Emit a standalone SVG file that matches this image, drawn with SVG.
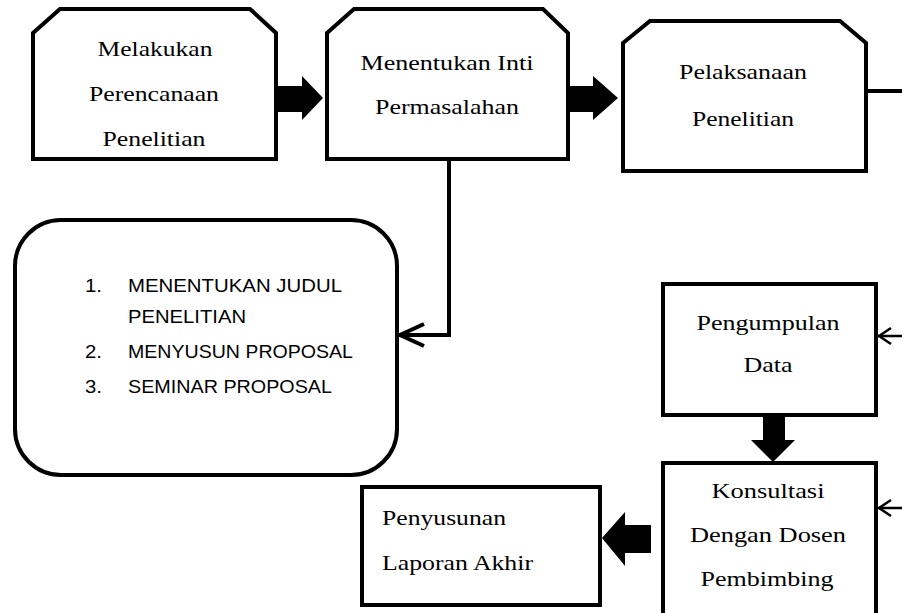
<svg xmlns="http://www.w3.org/2000/svg" width="902" height="613" viewBox="0 0 902 613">
<style>
.box{fill:#fff;stroke:#000;stroke-width:4;stroke-linejoin:miter}
.t{font-family:"Liberation Serif","Times New Roman",serif;font-size:21px;fill:#000}
.s{font-family:"Liberation Sans",Arial,sans-serif;font-size:18.5px;fill:#000}
.c{text-anchor:middle}
.blk{fill:#000;stroke:none}
.ln{fill:none;stroke:#000;stroke-width:4}
.thin{fill:none;stroke:#000;stroke-width:2.5}
</style>
<rect width="902" height="613" fill="#fff"/>
<g id="connectors">
  <polygon class="blk" points="276,86 302,86 302,76 323,98 302,120 302,112 276,112"/>
  <polygon class="blk" points="568,86 593,86 593,76 618,98 593,120 593,112 568,112"/>
  <polyline class="ln" points="449,159 449,335 399,335"/>
  <polyline class="ln" points="424,324 400,335 424,346" stroke-linejoin="miter"/>
  <line class="ln" x1="866" y1="91" x2="902" y2="91"/>
  <line class="thin" x1="878" y1="336" x2="902" y2="336"/>
  <polyline class="thin" points="891,328 879,336 891,344"/>
  <line class="thin" x1="878" y1="508" x2="902" y2="508"/>
  <polyline class="thin" points="891,500 879,508 891,516"/>
  <polygon class="blk" points="763,415 785,415 785,440 795,440 773,462 751,440 763,440"/>
  <polygon class="blk" points="651,525 625,525 625,512 602,538 625,566 625,553 651,553"/>
</g>
<g id="n1">
  <path class="box" d="M33,33 L60,9 L250,9 L276,33 L276,159 L33,159 Z"/>
  <text class="t c" x="155" y="56" textLength="115" lengthAdjust="spacingAndGlyphs">Melakukan</text>
  <text class="t c" x="154" y="101" textLength="130" lengthAdjust="spacingAndGlyphs">Perencanaan</text>
  <text class="t c" x="154" y="146" textLength="103" lengthAdjust="spacingAndGlyphs">Penelitian</text>
</g>
<g id="n2">
  <path class="box" d="M327,33 L354,9 L543,9 L568,33 L568,159 L327,159 Z"/>
  <text class="t c" x="447" y="70" textLength="173" lengthAdjust="spacingAndGlyphs">Menentukan Inti</text>
  <text class="t c" x="447" y="114" textLength="144" lengthAdjust="spacingAndGlyphs">Permasalahan</text>
</g>
<g id="n3">
  <path class="box" d="M623,43 L650,21 L840,21 L866,43 L866,171 L623,171 Z"/>
  <text class="t c" x="743" y="79" textLength="128" lengthAdjust="spacingAndGlyphs">Pelaksanaan</text>
  <text class="t c" x="743" y="126" textLength="102" lengthAdjust="spacingAndGlyphs">Penelitian</text>
</g>
<g id="n4">
  <rect class="box" x="15" y="220" width="382" height="255" rx="46" ry="46"/>
  <text class="s" x="85" y="292" textLength="17" lengthAdjust="spacingAndGlyphs">1.</text>
  <text class="s" x="128" y="292" textLength="214" lengthAdjust="spacingAndGlyphs">MENENTUKAN JUDUL</text>
  <text class="s" x="128" y="323" textLength="118" lengthAdjust="spacingAndGlyphs">PENELITIAN</text>
  <text class="s" x="85" y="358" textLength="17" lengthAdjust="spacingAndGlyphs">2.</text>
  <text class="s" x="128" y="358" textLength="225" lengthAdjust="spacingAndGlyphs">MENYUSUN PROPOSAL</text>
  <text class="s" x="85" y="393" textLength="17" lengthAdjust="spacingAndGlyphs">3.</text>
  <text class="s" x="128" y="393" textLength="204" lengthAdjust="spacingAndGlyphs">SEMINAR PROPOSAL</text>
</g>
<g id="n5">
  <rect class="box" x="663" y="284" width="213" height="131"/>
  <text class="t c" x="768" y="330" textLength="143" lengthAdjust="spacingAndGlyphs">Pengumpulan</text>
  <text class="t c" x="768" y="372" textLength="49" lengthAdjust="spacingAndGlyphs">Data</text>
</g>
<g id="n6">
  <rect class="box" x="663" y="463" width="213" height="160"/>
  <text class="t c" x="768" y="498" textLength="113" lengthAdjust="spacingAndGlyphs">Konsultasi</text>
  <text class="t c" x="768" y="542" textLength="156" lengthAdjust="spacingAndGlyphs">Dengan Dosen</text>
  <text class="t c" x="767" y="586" textLength="133" lengthAdjust="spacingAndGlyphs">Pembimbing</text>
</g>
<g id="n7">
  <rect class="box" x="362" y="487" width="238" height="118"/>
  <text class="t" x="382" y="525" textLength="124" lengthAdjust="spacingAndGlyphs">Penyusunan</text>
  <text class="t" x="382" y="570" textLength="151" lengthAdjust="spacingAndGlyphs">Laporan Akhir</text>
</g>
</svg>
